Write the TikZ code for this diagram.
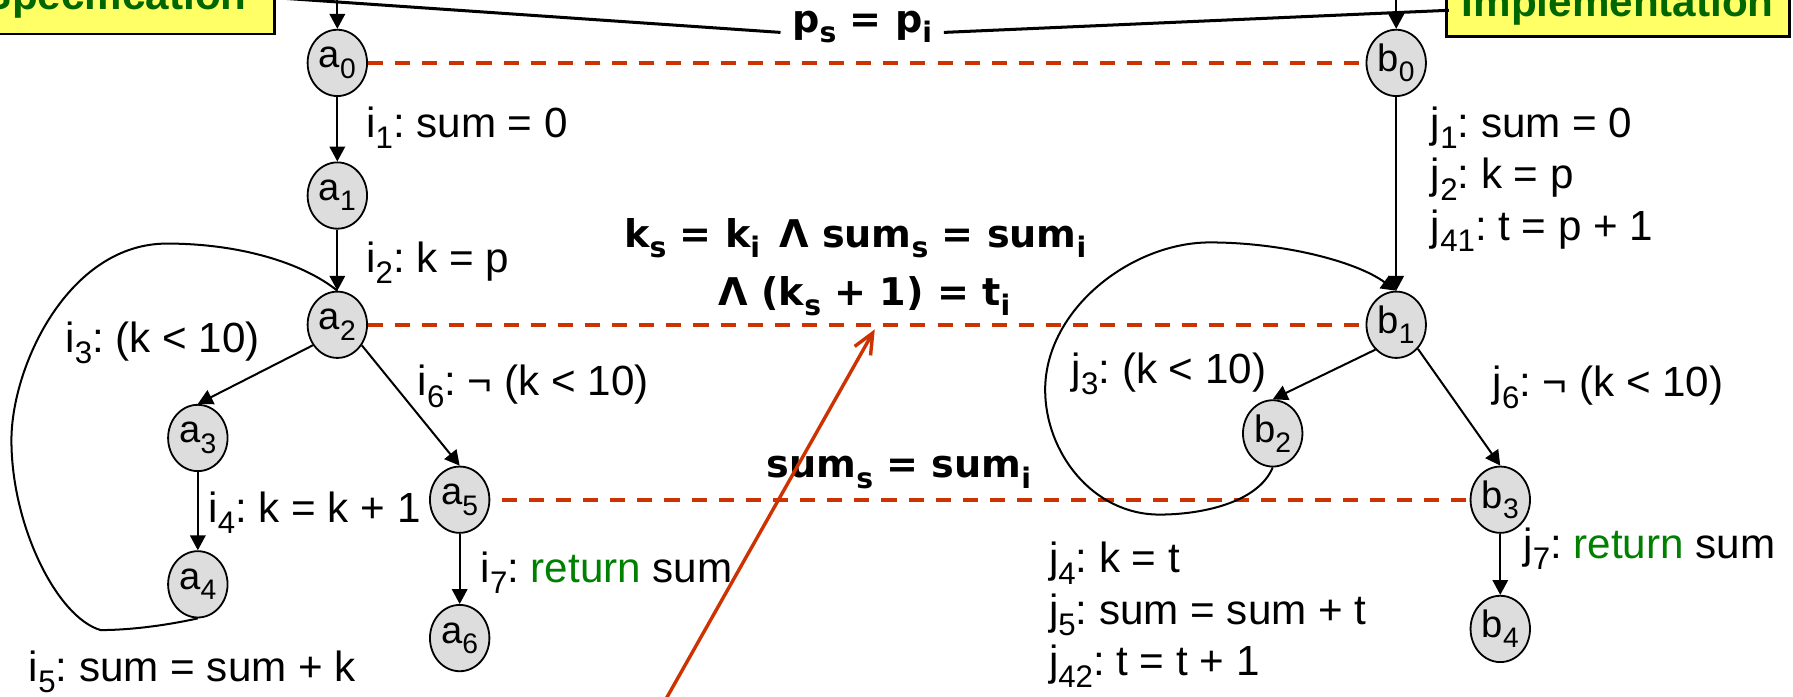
\documentclass[tikz,border=0pt]{standalone}
\usepackage{fontspec}
\usepackage{graphicx}
\setmainfont{Liberation Sans}
\newfontfamily\dvs{DejaVu Sans}
\usetikzlibrary{shapes.geometric,arrows.meta}
\definecolor{dred}{HTML}{CC3300}
\definecolor{boxyellow}{HTML}{FFFF66}
\definecolor{titlegreen}{HTML}{006600}
\definecolor{kwgreen}{HTML}{008000}
\definecolor{nodegray}{HTML}{DDDDDD}
\newcommand{\sbs}[1]{\raisebox{-0.27em}{\scalebox{0.74}{#1}}}
\frenchspacing
\begin{document}
\begin{tikzpicture}[x=0.02cm,y=-0.02cm,
  state/.style={ellipse,draw,fill=nodegray,minimum width=1.04cm,minimum height=1.16cm,inner sep=0pt,line width=0.9pt,font=\fontsize{19}{22}\selectfont},
  lbl/.style={anchor=base west,inner sep=0pt,font=\fontsize{21}{25}\selectfont},
  rel/.style={anchor=base,inner sep=0pt,font=\dvs\bfseries\fontsize{19}{23}\selectfont},
  flow/.style={-{Triangle[length=0.26cm,width=0.27cm]},line width=1pt},
  loopline/.style={line width=1pt},
  match/.style={dred,line width=1.9pt,dash pattern=on 7.5pt off 6pt},
  topline/.style={line width=1.5pt},
  pointer/.style={dred,line width=1.7pt,-{Straight Barb[length=0.36cm,width=0.32cm]}},
  titlebox/.style={draw,line width=1.4pt,fill=boxyellow,inner sep=0pt,text=titlegreen,font=\bfseries\fontsize{21}{25}\selectfont}
]
\useasboundingbox (0,0) rectangle (1568,609);

% title boxes
\node[titlebox,anchor=south east,minimum width=5.56cm,minimum height=1.23cm] (spec) at (241,31) {Specification};
\node[titlebox,anchor=south east,minimum width=6.0cm,minimum height=1.07cm] (impl) at (1566,33) {Implementation};

% states
\node[state] (a0) at (295,55) {a\sbs{0}};
\node[state] (a1) at (295,171) {a\sbs{1}};
\node[state] (a2) at (295,284) {a\sbs{2}};
\node[state] (a3) at (173,383) {a\sbs{3}};
\node[state] (a4) at (173,511) {a\sbs{4}};
\node[state] (a5) at (402,437) {a\sbs{5}};
\node[state] (a6) at (402,558) {a\sbs{6}};
\node[state] (b0) at (1221,55) {b\sbs{0}};
\node[state] (b1) at (1221,284) {b\sbs{1}};
\node[state] (b2) at (1113,379) {b\sbs{2}};
\node[state] (b3) at (1312,437) {b\sbs{3}};
\node[state] (b4) at (1312,550) {b\sbs{4}};

% relation labels
\node[rel] (ps) at (754,28) {p\sbs{s} = p\sbs{i}};
\node[rel] (inv1) at (748,216) {k\sbs{s} = k\sbs{i}\hspace{0.5em}Λ sum\sbs{s} = sum\sbs{i}};
\node[rel] (inv2) at (756,267) {Λ (k\sbs{s} + 1) = t\sbs{i}};
\node[rel] (inv3) at (786,418) {sum\sbs{s} = sum\sbs{i}};

% top connectors
\coordinate (sA) at (241,-2);
\coordinate (iA) at (1267,9);
\coordinate (ta) at (295,-3);
\coordinate (tb) at (1221,-3);
\draw[topline] (sA) -- ([xshift=-0.2cm,yshift=-0.1cm]ps.west);
\draw[topline] ([xshift=0.2cm,yshift=-0.1cm]ps.east) -- (iA);
\draw[flow] (ta) -- (a0);
\draw[flow] (tb) -- (b0);

% matching lines
\draw[match] (a0) -- (b0);
\draw[match] (a2) -- (b1);
\draw[match,shorten <=0.2cm] (a5) -- (b3);

% specification edges
\draw[flow] (a0) -- (a1);
\draw[flow] (a1) -- (a2);
\draw[flow] (a2.220) -- (a3.north);
\draw[flow] (a2.320) -- (a5.north);
\draw[flow] (a3) -- (a4);
\draw[flow] (a5) -- (a6);
\draw[loopline] (a4.south) .. controls (140,548) and (110,551) .. (88,551)
  .. controls (50,540) and (10,460) .. (10,385)
  .. controls (10,320) and (60,213) .. (146,213)
  .. controls (210,213) and (265,230) .. (a2.north);

% implementation edges
\draw[flow] (b0) -- (b1);
\draw[flow] (b1.230) -- (b2.north);
\draw[flow] (b1.312) -- (b3.north);
\draw[flow] (b3) -- (b4);
\draw[flow] (b2.south) .. controls (1100,440) and (1050,450) .. (1014,450)
  .. controls (955,450) and (914,395) .. (914,341)
  .. controls (914,270) and (990,212) .. (1058,212)
  .. controls (1120,212) and (1185,228) .. (b1.north);

% edge labels (specification)
\node[lbl] (i1) at (320,120) {i\sbs{1}: sum = 0};
\node[lbl] (i2) at (320,238) {i\sbs{2}: k = p};
\node[lbl] (i3) at (57,308) {i\sbs{3}: (k < 10)};
\node[lbl] (i6) at (365,346) {i\sbs{6}: ¬ (k < 10)};
\node[lbl] (i4) at (182,457) {i\sbs{4}: k = k + 1};
\node[lbl] (i7) at (420,509) {i\sbs{7}: \textcolor{kwgreen}{return} sum};
\node[lbl] (i5) at (25,596) {i\sbs{5}: sum = sum + k};

% edge labels (implementation)
\node[lbl] (j1) at (1251,120) {j\sbs{1}: sum = 0};
\node[lbl] (j2) at (1251,165) {j\sbs{2}: k = p};
\node[lbl] (j41) at (1251,210) {j\sbs{41}: t = p + 1};
\node[lbl] (j3) at (937,335) {j\sbs{3}: (k < 10)};
\node[lbl] (j6) at (1305,347) {j\sbs{6}: ¬ (k < 10)};
\node[lbl] (j7) at (1332,488) {j\sbs{7}: \textcolor{kwgreen}{return} sum};
\node[lbl] (j4) at (917,501) {j\sbs{4}: k = t};
\node[lbl] (j5) at (917,546) {j\sbs{5}: sum = sum + t};
\node[lbl] (j42) at (917,591) {j\sbs{42}: t = t + 1};

% pointer
\coordinate (rb) at (582,612);
\coordinate (rt) at (765,288);
\draw[pointer] (rb) -- (rt);
\end{tikzpicture}
\end{document}
